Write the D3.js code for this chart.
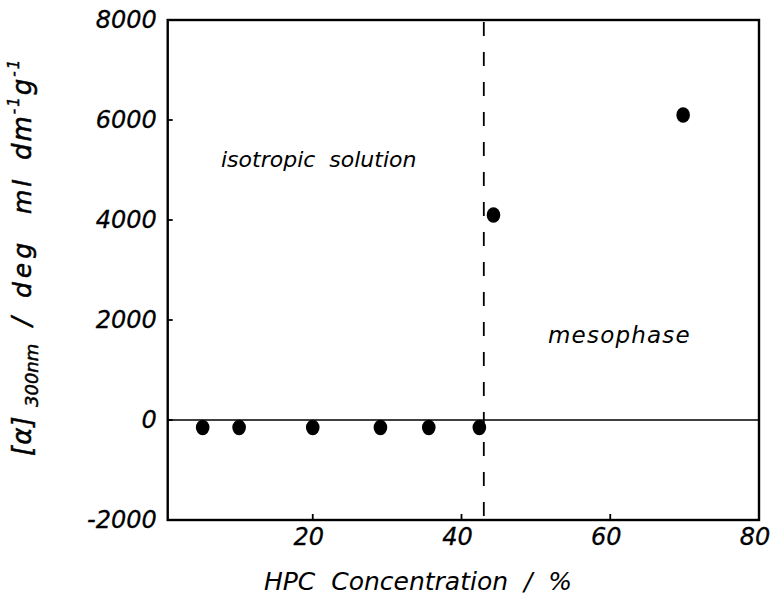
<!DOCTYPE html>
<html>
<head>
<meta charset="utf-8">
<script src="https://cdn.jsdelivr.net/npm/d3@7"></script>
<style>
  html, body { margin: 0; padding: 0; background: #fff; }
  svg { display: block; }
  text { font-family: "DejaVu Sans", sans-serif; font-style: italic; fill: #000; }
</style>
</head>
<body>
<svg id="chart" width="771" height="596"></svg>
<script>
// HPC concentration (%) and specific rotation at 300 nm
const concentration = [5.2, 10.1, 20.0, 29.1, 35.6, 42.4, 44.3, 69.8];
const rotation = [-150, -150, -150, -150, -150, -150, 4100, 6100];

const xTicks = [20, 40, 60, 80];
const yTicks = [-2000, 0, 2000, 4000, 6000, 8000];
const xDomain = [0.5, 80];
const yDomain = [-2000, 8000];
const phaseBoundary = 43;

const svg = d3.select("#chart");

const x = d3.scaleLinear().domain([0, 80]).range([164, 759]);
const y = d3.scaleLinear().domain(yDomain).range([520, 20]);

const plotLeft = x(xDomain[0]), plotRight = x(xDomain[1]);
const plotTop = y(yDomain[1]), plotBottom = y(yDomain[0]);

// zero reference line
svg.append("line")
  .attr("x1", plotLeft).attr("x2", plotRight)
  .attr("y1", y(0)).attr("y2", y(0))
  .attr("stroke", "#000").attr("stroke-width", 1.6);

// phase boundary
svg.append("line")
  .attr("x1", x(phaseBoundary)).attr("x2", x(phaseBoundary))
  .attr("y1", plotTop + 2).attr("y2", plotBottom)
  .attr("stroke", "#000").attr("stroke-width", 1.8)
  .attr("stroke-dasharray", "14,16");

// frame
svg.append("rect")
  .attr("x", plotLeft).attr("y", plotTop)
  .attr("width", plotRight - plotLeft).attr("height", plotBottom - plotTop)
  .attr("fill", "none").attr("stroke", "#000").attr("stroke-width", 2.4);

// inward ticks on the left axis
svg.append("g").selectAll("line")
  .data(yTicks.filter(d => d > yDomain[0] && d < yDomain[1]))
  .join("line")
  .attr("x1", plotLeft).attr("x2", plotLeft + 5)
  .attr("y1", d => y(d)).attr("y2", d => y(d))
  .attr("stroke", "#000").attr("stroke-width", 1.8);

// inward ticks on the bottom axis
svg.append("g").selectAll("line")
  .data(xTicks.filter(d => d < xDomain[1]))
  .join("line")
  .attr("x1", d => x(d)).attr("x2", d => x(d))
  .attr("y1", plotBottom).attr("y2", plotBottom - 6)
  .attr("stroke", "#000").attr("stroke-width", 1.8);

// y tick labels
svg.append("g").selectAll("text")
  .data(yTicks)
  .join("text")
  .attr("x", plotLeft - 11)
  .attr("y", d => y(d) + 8)
  .attr("text-anchor", "end")
  .attr("font-size", 24)
  .attr("stroke", "#000").attr("stroke-width", 0.3)
  .text(d => d);

// x tick labels
svg.append("g").selectAll("text")
  .data(xTicks)
  .join("text")
  .attr("x", d => x(d) - 4)
  .attr("y", plotBottom + 25)
  .attr("text-anchor", "middle")
  .attr("font-size", 24)
  .attr("stroke", "#000").attr("stroke-width", 0.3)
  .text(d => d);

// data points
svg.append("g").selectAll("ellipse")
  .data(concentration.map((c, i) => [c, rotation[i]]))
  .join("ellipse")
  .attr("cx", d => x(d[0]))
  .attr("cy", d => y(d[1]))
  .attr("rx", 6.8).attr("ry", 7.8)
  .attr("fill", "#000");

// region labels
svg.append("text")
  .attr("x", 221).attr("y", 167)
  .attr("font-size", 22)
  .attr("xml:space", "preserve")
  .text("isotropic  solution");

svg.append("text")
  .attr("x", 548).attr("y", 343)
  .attr("font-size", 23)
  .attr("letter-spacing", 1.2)
  .text("mesophase");

// x axis title
svg.append("text")
  .attr("x", 418).attr("y", 590)
  .attr("text-anchor", "middle")
  .attr("font-size", 25)
  .attr("xml:space", "preserve")
  .text("HPC  Concentration  /  %");

// y axis title, built from pieces along the rotated baseline
const yTitle = svg.append("g").attr("transform", "translate(31,0)");
function rotPiece(text, yStart, size, dx, spacing) {
  return yTitle.append("text")
    .attr("transform", `translate(${dx || 0},${yStart}) rotate(-90)`)
    .attr("font-size", size)
    .attr("letter-spacing", spacing || 0)
    .attr("stroke", "#000").attr("stroke-width", 0.5)
    .text(text);
}
rotPiece("[α]", 456, 26, 0, 1);
rotPiece("300nm", 407, 18, 7);
rotPiece("/", 326, 26);
rotPiece("deg", 298, 25, 0, 4);
rotPiece("ml", 214, 25, 0, 3);
const dm = yTitle.append("text")
  .attr("transform", "translate(0,160) rotate(-90)")
  .attr("font-size", 26)
  .attr("letter-spacing", 2)
  .attr("stroke", "#000").attr("stroke-width", 0.5);
dm.append("tspan").text("dm");
dm.append("tspan").attr("font-size", 15).attr("dy", -12).text("-1");
dm.append("tspan").attr("dy", 12).text("g");
dm.append("tspan").attr("font-size", 15).attr("dy", -12).text("-1");
</script>
</body>
</html>
